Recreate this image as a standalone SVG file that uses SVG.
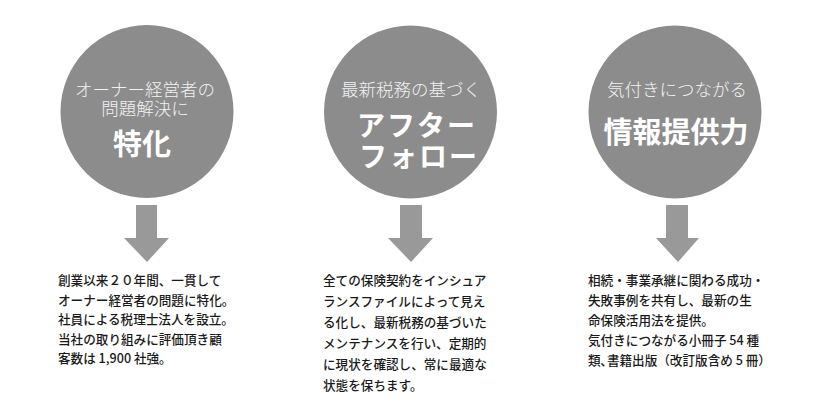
<svg xmlns="http://www.w3.org/2000/svg" width="840" height="405" viewBox="0 0 840 405">
<style>
.bg{fill:#ffffff}
.circle{fill:#8c8c8c}
.arrow{fill:#999999}
.sub{font-family:"Noto Sans CJK JP","Noto Sans",sans-serif;font-size:17.5px;fill:#f2f2f2;text-anchor:middle;font-weight:300}
.big{font-family:"Noto Sans CJK JP","Noto Sans",sans-serif;font-size:29px;fill:#ffffff;text-anchor:middle;font-weight:700}
.big2{font-family:"Noto Sans CJK JP","Noto Sans",sans-serif;font-size:28px;letter-spacing:2px;fill:#ffffff;text-anchor:middle;font-weight:700}
.body{font-family:"Noto Sans CJK JP","Noto Sans",sans-serif;font-size:12.6px;fill:#1a1a1a;font-weight:500}
</style>
<rect class="bg" x="0" y="0" width="840" height="405"/>
<g id="node1">
<circle class="circle" cx="147" cy="111.5" r="86.5"/>
<text class="sub" x="145" y="95.5">オーナー経営者の</text>
<text class="sub" x="145" y="114.5">問題解決に</text>
<text class="big" x="142" y="155">特化</text>
</g>
<g id="node2">
<circle class="circle" cx="410.5" cy="112" r="86.5"/>
<text class="sub" x="411" y="96">最新税務の基づく</text>
<text class="big2" x="417" y="135.5">アフター</text>
<text class="big2" x="419" y="167">フォロー</text>
</g>
<g id="node3">
<circle class="circle" cx="675" cy="112" r="86.5"/>
<text class="sub" x="677" y="96">気付きにつながる</text>
<text class="big" x="676" y="143">情報提供力</text>
</g>
<g id="connectors">
<polygon class="arrow" points="136,205 157,205 157,238 169,238 147,262 124,238 136,238"/>
<polygon class="arrow" points="400,205 422,205 422,238 433,238 411,262 388,238 400,238"/>
<polygon class="arrow" points="666,205 688,205 688,238 699,238 678,262 656,238 666,238"/>
</g>
<g id="text1">
<text class="body" x="58" y="285">創業以来２０年間、一貫して</text>
<text class="body" x="58" y="304.5">オーナー経営者の問題に特化。</text>
<text class="body" x="58" y="324">社員による税理士法人を設立。</text>
<text class="body" x="58" y="343.5">当社の取り組みに評価頂き顧</text>
<text class="body" x="58" y="363">客数は 1,900 社強。</text>
</g>
<g id="text2">
<text class="body" x="323" y="285">全ての保険契約をインシュア</text>
<text class="body" x="323" y="306">ランスファイルによって見え</text>
<text class="body" x="323" y="327">る化し、最新税務の基づいた</text>
<text class="body" x="323" y="348">メンテナンスを行い、定期的</text>
<text class="body" x="323" y="369">に現状を確認し、常に最適な</text>
<text class="body" x="323" y="390">状態を保ちます。</text>
</g>
<g id="text3">
<text class="body" x="588" y="285">相続・事業承継に関わる成功・</text>
<text class="body" x="588" y="305">失敗事例を共有し、最新の生</text>
<text class="body" x="588" y="325">命保険活用法を提供。</text>
<text class="body" x="588" y="345">気付きにつながる小冊子 54 種</text>
<text class="body" x="588" y="365">類､書籍出版（改訂版含め 5 冊）</text>
</g>
</svg>
